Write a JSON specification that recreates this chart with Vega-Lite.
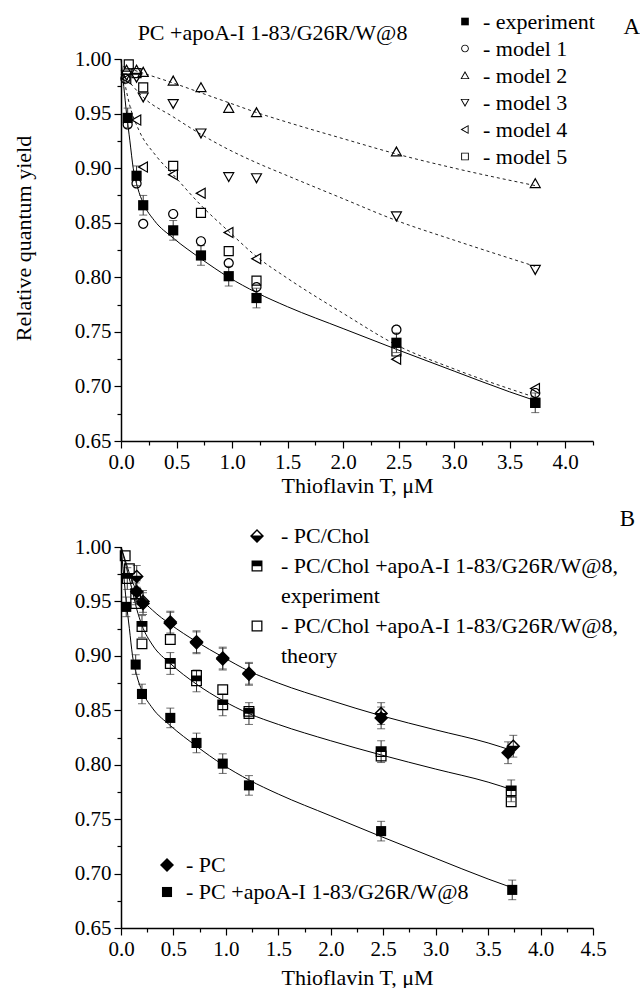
{
"$schema": "https://vega.github.io/schema/vega-lite/v6.json",
"autosize": {"type": "pad"},
"padding": {"left": 12, "top": 10, "right": 0, "bottom": 0},
"background": "white",
"bounds": "flush",
"spacing": 106,
"config": {
  "font": "Liberation Serif, Times New Roman, serif",
  "view": {"stroke": null},
  "axis": {"labelFont": "Liberation Serif, Times New Roman, serif", "labelFontSize": 21, "labelColor": "black", "titleFont": "Liberation Serif, Times New Roman, serif", "titleFontSize": 22, "titleFontWeight": "normal", "titleColor": "black", "domainColor": "black", "domainWidth": 1.5, "tickColor": "black", "tickWidth": 1.2, "grid": false},
  "legend": {"labelFont": "Liberation Serif, Times New Roman, serif", "labelFontSize": 22, "labelColor": "black", "padding": 0, "labelLimit": 500},
  "title": {"font": "Liberation Serif, Times New Roman, serif", "fontSize": 23, "fontWeight": "normal", "color": "black"}
},
"datasets": {
  "aLines": [
    {"c":"m2","t":0.02,"v":0.993},{"c":"m2","t":0.2,"v":0.987},{"c":"m2","t":0.47,"v":0.978},{"c":"m2","t":0.72,"v":0.969},{"c":"m2","t":0.97,"v":0.96},{"c":"m2","t":1.22,"v":0.951},{"c":"m2","t":1.5,"v":0.942},{"c":"m2","t":2.0,"v":0.927},{"c":"m2","t":2.48,"v":0.913},{"c":"m2","t":3.0,"v":0.9},{"c":"m2","t":3.73,"v":0.884},
    {"c":"m3","t":0.02,"v":0.986},{"c":"m3","t":0.1,"v":0.976},{"c":"m3","t":0.2,"v":0.965},{"c":"m3","t":0.47,"v":0.947},{"c":"m3","t":0.72,"v":0.931},{"c":"m3","t":0.97,"v":0.917},{"c":"m3","t":1.22,"v":0.905},{"c":"m3","t":1.5,"v":0.893},{"c":"m3","t":2.0,"v":0.872},{"c":"m3","t":2.48,"v":0.852},{"c":"m3","t":3.0,"v":0.834},{"c":"m3","t":3.73,"v":0.81},
    {"c":"m4","t":0.02,"v":0.985},{"c":"m4","t":0.08,"v":0.957},{"c":"m4","t":0.16,"v":0.935},{"c":"m4","t":0.31,"v":0.912},{"c":"m4","t":0.47,"v":0.894},{"c":"m4","t":0.72,"v":0.866},{"c":"m4","t":0.97,"v":0.842},{"c":"m4","t":1.22,"v":0.819},{"c":"m4","t":1.5,"v":0.799},{"c":"m4","t":2.0,"v":0.767},{"c":"m4","t":2.48,"v":0.738},{"c":"m4","t":3.0,"v":0.716},{"c":"m4","t":3.73,"v":0.69}
  ],
  "aSolid": [
    {"t":0,"v":1.0},{"t":0.025,"v":0.975},{"t":0.05,"v":0.95},{"t":0.08,"v":0.925},{"t":0.11,"v":0.9},{"t":0.15,"v":0.882},{"t":0.2,"v":0.868},{"t":0.3,"v":0.852},{"t":0.47,"v":0.836},{"t":0.72,"v":0.817},{"t":0.97,"v":0.8},{"t":1.22,"v":0.786},{"t":1.5,"v":0.773},{"t":2.0,"v":0.753},{"t":2.48,"v":0.734},{"t":3.0,"v":0.714},{"t":3.5,"v":0.695},{"t":3.73,"v":0.687}
  ],
  "aErr": [
    {"t":0.06,"lo":0.937,"hi":0.955},{"t":0.14,"lo":0.884,"hi":0.902},{"t":0.2,"lo":0.857,"hi":0.875},{"t":0.47,"lo":0.834,"hi":0.852},{"t":0.72,"lo":0.811,"hi":0.829},{"t":0.97,"lo":0.792,"hi":0.81},{"t":1.22,"lo":0.772,"hi":0.79},{"t":2.48,"lo":0.731,"hi":0.749},{"t":3.73,"lo":0.676,"hi":0.694}
  ],
  "aPts": [
    {"s":"experiment","t":0.06,"v":0.946},{"s":"experiment","t":0.14,"v":0.893},{"s":"experiment","t":0.2,"v":0.866},{"s":"experiment","t":0.47,"v":0.843},{"s":"experiment","t":0.72,"v":0.82},{"s":"experiment","t":0.97,"v":0.801},{"s":"experiment","t":1.22,"v":0.781},{"s":"experiment","t":2.48,"v":0.74},{"s":"experiment","t":3.73,"v":0.685},
    {"s":"model 1","t":0.04,"v":0.982},{"s":"model 1","t":0.06,"v":0.94},{"s":"model 1","t":0.14,"v":0.886},{"s":"model 1","t":0.2,"v":0.849},{"s":"model 1","t":0.47,"v":0.858},{"s":"model 1","t":0.72,"v":0.833},{"s":"model 1","t":0.97,"v":0.813},{"s":"model 1","t":1.22,"v":0.791},{"s":"model 1","t":2.48,"v":0.752},{"s":"model 1","t":3.73,"v":0.694},
    {"s":"model 2","t":0.05,"v":0.99},{"s":"model 2","t":0.14,"v":0.99},{"s":"model 2","t":0.2,"v":0.988},{"s":"model 2","t":0.47,"v":0.98},{"s":"model 2","t":0.72,"v":0.974},{"s":"model 2","t":0.97,"v":0.955},{"s":"model 2","t":1.22,"v":0.951},{"s":"model 2","t":2.48,"v":0.915},{"s":"model 2","t":3.73,"v":0.886},
    {"s":"model 3","t":0.05,"v":0.985},{"s":"model 3","t":0.14,"v":0.983},{"s":"model 3","t":0.2,"v":0.965},{"s":"model 3","t":0.47,"v":0.959},{"s":"model 3","t":0.72,"v":0.932},{"s":"model 3","t":0.97,"v":0.892},{"s":"model 3","t":1.22,"v":0.891},{"s":"model 3","t":2.48,"v":0.856},{"s":"model 3","t":3.73,"v":0.807},
    {"s":"model 4","t":0.05,"v":0.982},{"s":"model 4","t":0.14,"v":0.944},{"s":"model 4","t":0.2,"v":0.901},{"s":"model 4","t":0.47,"v":0.894},{"s":"model 4","t":0.72,"v":0.877},{"s":"model 4","t":0.97,"v":0.841},{"s":"model 4","t":1.22,"v":0.817},{"s":"model 4","t":2.48,"v":0.725},{"s":"model 4","t":3.73,"v":0.698},
    {"s":"model 5","t":0.07,"v":0.995},{"s":"model 5","t":0.14,"v":0.987},{"s":"model 5","t":0.2,"v":0.974},{"s":"model 5","t":0.47,"v":0.902},{"s":"model 5","t":0.72,"v":0.859},{"s":"model 5","t":0.97,"v":0.824},{"s":"model 5","t":1.22,"v":0.797},{"s":"model 5","t":2.48,"v":0.732},{"s":"model 5","t":3.73,"v":0.685}
  ],
  "bLines": [
    {"c":"top","t":0,"v":1.0},{"c":"top","t":0.05,"v":0.985},{"c":"top","t":0.1,"v":0.97},{"c":"top","t":0.15,"v":0.96},{"c":"top","t":0.2,"v":0.952},{"c":"top","t":0.3,"v":0.942},{"c":"top","t":0.47,"v":0.929},{"c":"top","t":0.72,"v":0.913},{"c":"top","t":0.97,"v":0.899},{"c":"top","t":1.22,"v":0.886},{"c":"top","t":1.5,"v":0.875},{"c":"top","t":2.0,"v":0.859},{"c":"top","t":2.48,"v":0.845},{"c":"top","t":3.0,"v":0.832},{"c":"top","t":3.5,"v":0.82},{"c":"top","t":3.73,"v":0.813},
    {"c":"mid","t":0,"v":1.0},{"c":"mid","t":0.05,"v":0.982},{"c":"mid","t":0.1,"v":0.963},{"c":"mid","t":0.15,"v":0.943},{"c":"mid","t":0.2,"v":0.928},{"c":"mid","t":0.3,"v":0.91},{"c":"mid","t":0.47,"v":0.893},{"c":"mid","t":0.72,"v":0.874},{"c":"mid","t":0.97,"v":0.859},{"c":"mid","t":1.22,"v":0.847},{"c":"mid","t":1.5,"v":0.837},{"c":"mid","t":2.0,"v":0.822},{"c":"mid","t":2.48,"v":0.809},{"c":"mid","t":3.0,"v":0.796},{"c":"mid","t":3.5,"v":0.784},{"c":"mid","t":3.73,"v":0.777},
    {"c":"bot","t":0,"v":1.0},{"c":"bot","t":0.025,"v":0.975},{"c":"bot","t":0.05,"v":0.95},{"c":"bot","t":0.08,"v":0.925},{"c":"bot","t":0.11,"v":0.9},{"c":"bot","t":0.15,"v":0.882},{"c":"bot","t":0.2,"v":0.868},{"c":"bot","t":0.3,"v":0.852},{"c":"bot","t":0.47,"v":0.836},{"c":"bot","t":0.72,"v":0.817},{"c":"bot","t":0.97,"v":0.8},{"c":"bot","t":1.22,"v":0.786},{"c":"bot","t":1.5,"v":0.773},{"c":"bot","t":2.0,"v":0.753},{"c":"bot","t":2.48,"v":0.734},{"c":"bot","t":3.0,"v":0.714},{"c":"bot","t":3.5,"v":0.695},{"c":"bot","t":3.73,"v":0.687}
  ],
  "bErr": [
    {"t":0.15,"lo":0.949,"hi":0.969},{"t":0.21,"lo":0.938,"hi":0.958},{"t":0.47,"lo":0.921,"hi":0.941},{"t":0.72,"lo":0.903,"hi":0.923},{"t":0.97,"lo":0.888,"hi":0.908},{"t":1.22,"lo":0.874,"hi":0.894},{"t":2.48,"lo":0.833,"hi":0.853},{"t":3.69,"lo":0.801,"hi":0.821},
    {"t":0.15,"lo":0.963,"hi":0.983},{"t":0.21,"lo":0.94,"hi":0.96},{"t":0.47,"lo":0.92,"hi":0.94},{"t":0.72,"lo":0.902,"hi":0.922},{"t":0.97,"lo":0.887,"hi":0.907},{"t":1.22,"lo":0.873,"hi":0.893},{"t":2.48,"lo":0.837,"hi":0.857},{"t":3.74,"lo":0.807,"hi":0.827},
    {"t":0.06,"lo":0.961,"hi":0.981},{"t":0.14,"lo":0.947,"hi":0.967},{"t":0.2,"lo":0.917,"hi":0.937},{"t":0.47,"lo":0.883,"hi":0.903},{"t":0.72,"lo":0.867,"hi":0.887},{"t":0.97,"lo":0.845,"hi":0.865},{"t":1.22,"lo":0.837,"hi":0.857},{"t":2.48,"lo":0.802,"hi":0.822},{"t":3.72,"lo":0.766,"hi":0.786},
    {"t":0.05,"lo":0.936,"hi":0.954},{"t":0.14,"lo":0.883,"hi":0.901},{"t":0.2,"lo":0.856,"hi":0.874},{"t":0.47,"lo":0.834,"hi":0.852},{"t":0.72,"lo":0.811,"hi":0.829},{"t":0.97,"lo":0.792,"hi":0.81},{"t":1.22,"lo":0.772,"hi":0.79},{"t":2.48,"lo":0.73,"hi":0.748},{"t":3.73,"lo":0.676,"hi":0.694}
  ],
  "bG2": [
    {"s":"PC","t":0.15,"v":0.959},{"s":"PC","t":0.21,"v":0.948},{"s":"PC","t":0.47,"v":0.931},{"s":"PC","t":0.72,"v":0.913},{"s":"PC","t":0.97,"v":0.898},{"s":"PC","t":1.22,"v":0.884},{"s":"PC","t":2.48,"v":0.843},{"s":"PC","t":3.69,"v":0.811},
    {"s":"PC+apo","t":0.05,"v":0.945},{"s":"PC+apo","t":0.14,"v":0.892},{"s":"PC+apo","t":0.2,"v":0.865},{"s":"PC+apo","t":0.47,"v":0.843},{"s":"PC+apo","t":0.72,"v":0.82},{"s":"PC+apo","t":0.97,"v":0.801},{"s":"PC+apo","t":1.22,"v":0.781},{"s":"PC+apo","t":2.48,"v":0.739},{"s":"PC+apo","t":3.73,"v":0.685}
  ],
  "bG1": [
    {"s":"PC/Chol","t":0.15,"v":0.973},{"s":"PC/Chol","t":0.21,"v":0.95},{"s":"PC/Chol","t":0.47,"v":0.93},{"s":"PC/Chol","t":0.72,"v":0.912},{"s":"PC/Chol","t":0.97,"v":0.897},{"s":"PC/Chol","t":1.22,"v":0.883},{"s":"PC/Chol","t":2.48,"v":0.847},{"s":"PC/Chol","t":3.74,"v":0.817},
    {"s":"exp","t":0.06,"v":0.971},{"s":"exp","t":0.14,"v":0.957},{"s":"exp","t":0.2,"v":0.927},{"s":"exp","t":0.47,"v":0.893},{"s":"exp","t":0.72,"v":0.877},{"s":"exp","t":0.97,"v":0.855},{"s":"exp","t":1.22,"v":0.847},{"s":"exp","t":2.48,"v":0.812},{"s":"exp","t":3.72,"v":0.776},
    {"s":"theory","t":0.04,"v":0.992},{"s":"theory","t":0.08,"v":0.98},{"s":"theory","t":0.14,"v":0.948},{"s":"theory","t":0.2,"v":0.911},{"s":"theory","t":0.47,"v":0.915},{"s":"theory","t":0.72,"v":0.882},{"s":"theory","t":0.97,"v":0.869},{"s":"theory","t":1.22,"v":0.849},{"s":"theory","t":2.48,"v":0.808},{"s":"theory","t":3.72,"v":0.766}
  ]
},
"vconcat": [
  {
    "width": 472, "height": 382,
    "title": {"text": "A", "anchor": "end", "frame": "group", "dx": 47, "offset": -18},
    "resolve": {"axis": {"x": "independent"}},
    "layer": [
      {"data": {"name": "aLines"},
       "mark": {"type": "line", "interpolate": "monotone", "strokeDash": [3, 3], "strokeWidth": 1, "color": "#222"},
       "encoding": {
         "x": {"field": "t", "type": "quantitative", "scale": {"domain": [0, 4.25], "nice": false, "zero": false},
               "axis": {"orient": "top", "domain": false, "ticks": false, "labels": false, "grid": false, "title": "PC +apoA-I 1-83/G26R/W@8", "titleX": 151, "titleY": -27, "titleAlign": "center", "titleBaseline": "middle", "titleAngle": 0, "titleFontSize": 22}},
         "y": {"field": "v", "type": "quantitative", "scale": {"domain": [0.65, 1.0], "nice": false, "zero": false},
               "axis": {"values": [0.65,0.675,0.7,0.725,0.75,0.775,0.8,0.825,0.85,0.875,0.9,0.925,0.95,0.975,1], "labelExpr": "abs(datum.value*20-round(datum.value*20))<0.001 ? format(datum.value,'.2f') : ''", "tickSize": {"condition": {"test": "abs(datum.value*20-round(datum.value*20))<0.001", "value": 7}, "value": 4}, "labelOverlap": false, "labelFlush": false, "labelBound": false, "labelPadding": 3, "title": "Relative quantum yield", "titlePadding": 39, "titleY": 179}},
         "detail": {"field": "c"}
       }},
      {"data": {"name": "aSolid"},
       "mark": {"type": "line", "interpolate": "monotone", "strokeWidth": 1, "color": "black"},
       "encoding": {
         "x": {"field": "t", "type": "quantitative", "scale": {"domain": [0, 4.25], "nice": false, "zero": false}, "axis": null},
         "y": {"field": "v", "type": "quantitative", "scale": {"domain": [0.65, 1.0], "nice": false, "zero": false},
               "axis": {"values": [0.65,0.675,0.7,0.725,0.75,0.775,0.8,0.825,0.85,0.875,0.9,0.925,0.95,0.975,1], "labelExpr": "abs(datum.value*20-round(datum.value*20))<0.001 ? format(datum.value,'.2f') : ''", "tickSize": {"condition": {"test": "abs(datum.value*20-round(datum.value*20))<0.001", "value": 7}, "value": 4}, "labelOverlap": false, "labelFlush": false, "labelBound": false, "labelPadding": 3, "title": "Relative quantum yield", "titlePadding": 39, "titleY": 179}}
       }},
      {"data": {"name": "aErr"},
       "mark": {"type": "errorbar", "ticks": {"size": 8}, "color": "#333"},
       "encoding": {
         "x": {"field": "t", "type": "quantitative", "scale": {"domain": [0, 4.25], "nice": false, "zero": false}, "axis": null},
         "y": {"field": "lo", "type": "quantitative", "scale": {"domain": [0.65, 1.0], "nice": false, "zero": false},
               "axis": {"values": [0.65,0.675,0.7,0.725,0.75,0.775,0.8,0.825,0.85,0.875,0.9,0.925,0.95,0.975,1], "labelExpr": "abs(datum.value*20-round(datum.value*20))<0.001 ? format(datum.value,'.2f') : ''", "tickSize": {"condition": {"test": "abs(datum.value*20-round(datum.value*20))<0.001", "value": 7}, "value": 4}, "labelOverlap": false, "labelFlush": false, "labelBound": false, "labelPadding": 3, "title": "Relative quantum yield", "titlePadding": 39, "titleY": 179}},
         "y2": {"field": "hi"}
       }},
      {"data": {"name": "aPts"},
       "mark": {"type": "point", "filled": true, "color": "black", "size": 144, "opacity": 1, "strokeWidth": 0},
       "encoding": {
         "x": {"field": "t", "type": "quantitative", "scale": {"domain": [0, 4.25], "nice": false, "zero": false},
               "axis": {"orient": "bottom", "values": [0,0.25,0.5,0.75,1,1.25,1.5,1.75,2,2.25,2.5,2.75,3,3.25,3.5,3.75,4,4.25], "labelExpr": "abs(datum.value*2-round(datum.value*2))<0.001 ? format(datum.value,'.1f') : ''", "tickSize": {"condition": {"test": "abs(datum.value*2-round(datum.value*2))<0.001", "value": 7}, "value": 4}, "labelOverlap": false, "labelFlush": false, "labelBound": false, "labelPadding": 3, "title": "Thioflavin T, μM", "titlePadding": 3}},
         "y": {"field": "v", "type": "quantitative", "scale": {"domain": [0.65, 1.0], "nice": false, "zero": false},
               "axis": {"values": [0.65,0.675,0.7,0.725,0.75,0.775,0.8,0.825,0.85,0.875,0.9,0.925,0.95,0.975,1], "labelExpr": "abs(datum.value*20-round(datum.value*20))<0.001 ? format(datum.value,'.2f') : ''", "tickSize": {"condition": {"test": "abs(datum.value*20-round(datum.value*20))<0.001", "value": 7}, "value": 4}, "labelOverlap": false, "labelFlush": false, "labelBound": false, "labelPadding": 3, "title": "Relative quantum yield", "titlePadding": 39, "titleY": 179}},
         "shape": {"field": "s", "type": "nominal",
                   "scale": {"domain": ["experiment", "model 1", "model 2", "model 3", "model 4", "model 5"],
                             "range": ["M-0.85,-0.85L0.85,-0.85L0.85,0.85L-0.85,0.85Z",
                                       "M-0.85,0A0.85,0.85,0,1,1,0.85,0A0.85,0.85,0,1,1,-0.85,0ZM-0.65,0A0.65,0.65,0,1,0,0.65,0A0.65,0.65,0,1,0,-0.65,0Z",
                                       "M0,-1L1,0.8L-1,0.8ZM0,-0.55L-0.68,0.6L0.68,0.6Z",
                                       "M0,1L-1,-0.8L1,-0.8ZM0,0.55L0.68,-0.6L-0.68,-0.6Z",
                                       "M-1,0L0.8,-1L0.8,1ZM-0.55,0L0.6,0.68L0.6,-0.68Z",
                                       "M-0.85,-0.85L0.85,-0.85L0.85,0.85L-0.85,0.85ZM-0.65,-0.65L-0.65,0.65L0.65,0.65L0.65,-0.65Z"]},
                   "legend": {"orient": "none", "legendX": 333, "legendY": -48.5, "title": null, "labelExpr": "'- ' + datum.label", "symbolSize": 81, "symbolFillColor": "black", "symbolStrokeWidth": 0, "symbolOpacity": 1, "rowPadding": 5, "labelOffset": 7, "labelFontSize": 22, "padding": 0}}
       }}
    ]
  },
  {
    "width": 472, "height": 381,
    "title": {"text": "B", "anchor": "end", "frame": "group", "dx": 42, "offset": -6},
    "resolve": {"scale": {"shape": "independent"}},
    "layer": [
      {"data": {"name": "bLines"},
       "mark": {"type": "line", "interpolate": "monotone", "strokeWidth": 1, "color": "black"},
       "encoding": {
         "x": {"field": "t", "type": "quantitative", "scale": {"domain": [0, 4.5], "nice": false, "zero": false},
               "axis": {"values": [0,0.25,0.5,0.75,1,1.25,1.5,1.75,2,2.25,2.5,2.75,3,3.25,3.5,3.75,4,4.25,4.5], "labelExpr": "abs(datum.value*2-round(datum.value*2))<0.001 ? format(datum.value,'.1f') : ''", "tickSize": {"condition": {"test": "abs(datum.value*2-round(datum.value*2))<0.001", "value": 7}, "value": 4}, "labelOverlap": false, "labelFlush": false, "labelBound": false, "labelPadding": 3, "title": "Thioflavin T, μM", "titlePadding": 8}},
         "y": {"field": "v", "type": "quantitative", "scale": {"domain": [0.65, 1.0], "nice": false, "zero": false},
               "axis": {"values": [0.65,0.675,0.7,0.725,0.75,0.775,0.8,0.825,0.85,0.875,0.9,0.925,0.95,0.975,1], "labelExpr": "abs(datum.value*20-round(datum.value*20))<0.001 ? format(datum.value,'.2f') : ''", "tickSize": {"condition": {"test": "abs(datum.value*20-round(datum.value*20))<0.001", "value": 7}, "value": 4}, "labelOverlap": false, "labelFlush": false, "labelBound": false, "labelPadding": 3, "title": null}},
         "detail": {"field": "c"}
       }},
      {"data": {"name": "bErr"},
       "mark": {"type": "errorbar", "ticks": {"size": 8}, "color": "#333"},
       "encoding": {
         "x": {"field": "t", "type": "quantitative", "scale": {"domain": [0, 4.5], "nice": false, "zero": false},
               "axis": {"values": [0,0.25,0.5,0.75,1,1.25,1.5,1.75,2,2.25,2.5,2.75,3,3.25,3.5,3.75,4,4.25,4.5], "labelExpr": "abs(datum.value*2-round(datum.value*2))<0.001 ? format(datum.value,'.1f') : ''", "tickSize": {"condition": {"test": "abs(datum.value*2-round(datum.value*2))<0.001", "value": 7}, "value": 4}, "labelOverlap": false, "labelFlush": false, "labelBound": false, "labelPadding": 3, "title": "Thioflavin T, μM", "titlePadding": 8}},
         "y": {"field": "lo", "type": "quantitative", "scale": {"domain": [0.65, 1.0], "nice": false, "zero": false},
               "axis": {"values": [0.65,0.675,0.7,0.725,0.75,0.775,0.8,0.825,0.85,0.875,0.9,0.925,0.95,0.975,1], "labelExpr": "abs(datum.value*20-round(datum.value*20))<0.001 ? format(datum.value,'.2f') : ''", "tickSize": {"condition": {"test": "abs(datum.value*20-round(datum.value*20))<0.001", "value": 7}, "value": 4}, "labelOverlap": false, "labelFlush": false, "labelBound": false, "labelPadding": 3, "title": null}},
         "y2": {"field": "hi"}
       }},
      {"data": {"name": "bG2"},
       "mark": {"type": "point", "filled": true, "color": "black", "size": 196, "opacity": 1, "strokeWidth": 0},
       "encoding": {
         "x": {"field": "t", "type": "quantitative", "scale": {"domain": [0, 4.5], "nice": false, "zero": false},
               "axis": {"values": [0,0.25,0.5,0.75,1,1.25,1.5,1.75,2,2.25,2.5,2.75,3,3.25,3.5,3.75,4,4.25,4.5], "labelExpr": "abs(datum.value*2-round(datum.value*2))<0.001 ? format(datum.value,'.1f') : ''", "tickSize": {"condition": {"test": "abs(datum.value*2-round(datum.value*2))<0.001", "value": 7}, "value": 4}, "labelOverlap": false, "labelFlush": false, "labelBound": false, "labelPadding": 3, "title": "Thioflavin T, μM", "titlePadding": 8}},
         "y": {"field": "v", "type": "quantitative", "scale": {"domain": [0.65, 1.0], "nice": false, "zero": false},
               "axis": {"values": [0.65,0.675,0.7,0.725,0.75,0.775,0.8,0.825,0.85,0.875,0.9,0.925,0.95,0.975,1], "labelExpr": "abs(datum.value*20-round(datum.value*20))<0.001 ? format(datum.value,'.2f') : ''", "tickSize": {"condition": {"test": "abs(datum.value*20-round(datum.value*20))<0.001", "value": 7}, "value": 4}, "labelOverlap": false, "labelFlush": false, "labelBound": false, "labelPadding": 3, "title": null}},
         "shape": {"field": "s", "type": "nominal",
                   "scale": {"domain": ["PC", "PC+apo"],
                             "range": ["M0,-1L1,0L0,1L-1,0Z", "M-0.72,-0.72L0.72,-0.72L0.72,0.72L-0.72,0.72Z"]},
                   "legend": {"orient": "none", "legendX": 35, "legendY": 307, "title": null, "labelExpr": "datum.label == 'PC' ? '- PC' : '- PC +apoA-I 1-83/G26R/W@8'", "symbolSize": 196, "symbolFillColor": "black", "symbolStrokeWidth": 0, "symbolOpacity": 1, "rowPadding": 5, "labelOffset": 8, "labelFontSize": 22, "padding": 0, "labelLimit": 500}}
       }},
      {"data": {"name": "bG1"},
       "mark": {"type": "point", "filled": true, "color": "black", "size": 196, "opacity": 1, "strokeWidth": 0},
       "encoding": {
         "x": {"field": "t", "type": "quantitative", "scale": {"domain": [0, 4.5], "nice": false, "zero": false},
               "axis": {"values": [0,0.25,0.5,0.75,1,1.25,1.5,1.75,2,2.25,2.5,2.75,3,3.25,3.5,3.75,4,4.25,4.5], "labelExpr": "abs(datum.value*2-round(datum.value*2))<0.001 ? format(datum.value,'.1f') : ''", "tickSize": {"condition": {"test": "abs(datum.value*2-round(datum.value*2))<0.001", "value": 7}, "value": 4}, "labelOverlap": false, "labelFlush": false, "labelBound": false, "labelPadding": 3, "title": "Thioflavin T, μM", "titlePadding": 8}},
         "y": {"field": "v", "type": "quantitative", "scale": {"domain": [0.65, 1.0], "nice": false, "zero": false},
               "axis": {"values": [0.65,0.675,0.7,0.725,0.75,0.775,0.8,0.825,0.85,0.875,0.9,0.925,0.95,0.975,1], "labelExpr": "abs(datum.value*20-round(datum.value*20))<0.001 ? format(datum.value,'.2f') : ''", "tickSize": {"condition": {"test": "abs(datum.value*20-round(datum.value*20))<0.001", "value": 7}, "value": 4}, "labelOverlap": false, "labelFlush": false, "labelBound": false, "labelPadding": 3, "title": null}},
         "shape": {"field": "s", "type": "nominal",
                   "scale": {"domain": ["PC/Chol", "exp", "c1", "theory", "c2"],
                             "range": ["M0,-1L1,0L0,1L-1,0ZM0,-0.7L-0.62,-0.08L0.62,-0.08Z",
                                       "M-0.78,-0.78L0.78,-0.78L0.78,0.78L-0.78,0.78ZM-0.6,0.04L-0.6,0.6L0.6,0.6L0.6,0.04Z",
                                       "M0,0",
                                       "M-0.78,-0.78L0.78,-0.78L0.78,0.78L-0.78,0.78ZM-0.6,-0.6L-0.6,0.6L0.6,0.6L0.6,-0.6Z",
                                       "M0,0"]},
                   "legend": {"orient": "none", "legendX": 125, "legendY": -22, "title": null, "labelExpr": "datum.label == 'PC/Chol' ? '- PC/Chol' : datum.label == 'c1' ? '\u00a0\u00a0experiment' : datum.label == 'c2' ? '\u00a0\u00a0theory' : '- PC/Chol +apoA-I 1-83/G26R/W@8,'", "symbolSize": 196, "symbolFillColor": "black", "symbolStrokeWidth": 0, "symbolOpacity": 1, "rowPadding": 8, "labelOffset": 13, "labelFontSize": 22, "padding": 0, "labelLimit": 500}}
       }}
    ]
  }
]
}
